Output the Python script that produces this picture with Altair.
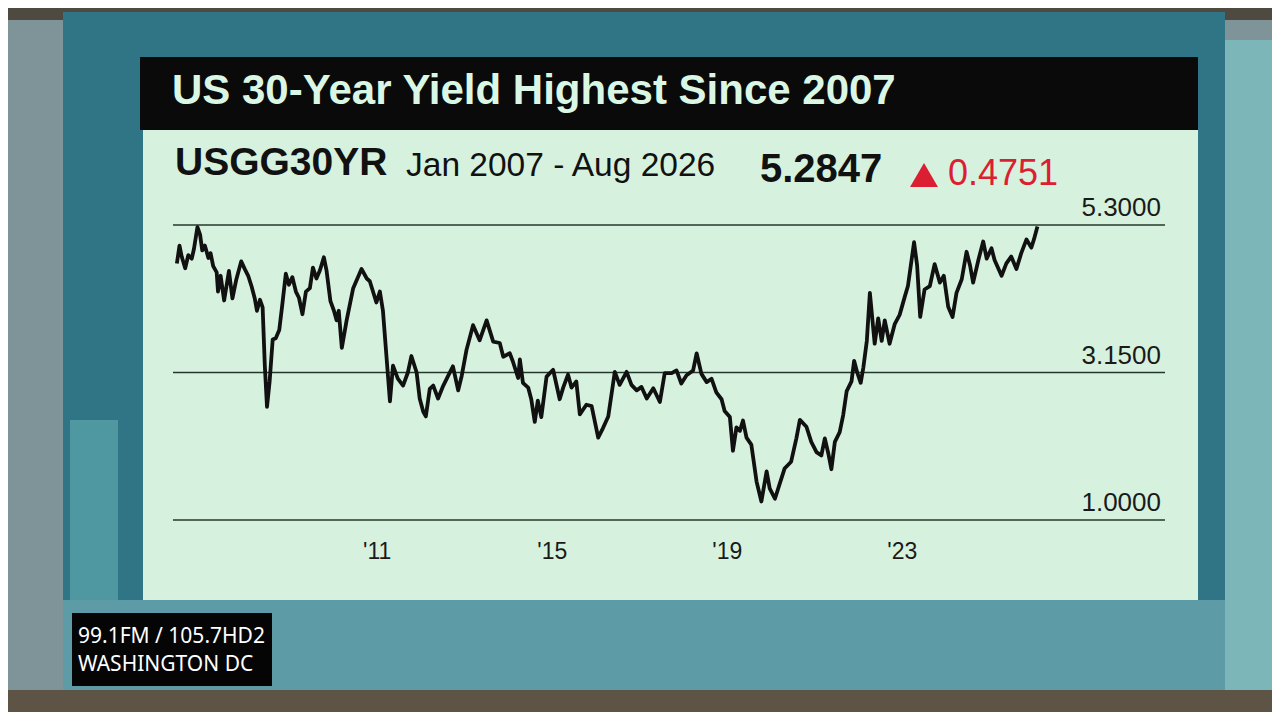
import altair as alt
import pandas as pd

# ---------------- data ----------------
years = [2007.02, 2007.08, 2007.13, 2007.21, 2007.28, 2007.36, 2007.41, 2007.49, 2007.55, 2007.60,
         2007.66, 2007.74, 2007.79, 2007.85, 2007.93, 2007.96, 2008.02, 2008.10, 2008.21, 2008.29,
         2008.38, 2008.49, 2008.57, 2008.65, 2008.73, 2008.80, 2008.85, 2008.92, 2008.98, 2009.03,
         2009.08, 2009.14, 2009.21, 2009.28, 2009.36, 2009.43, 2009.51, 2009.58, 2009.66, 2009.74,
         2009.81, 2009.89, 2009.97, 2010.06, 2010.13, 2010.21, 2010.29, 2010.38, 2010.44, 2010.53,
         2010.61, 2010.67, 2010.72, 2010.79, 2010.90, 2011.05, 2011.24, 2011.36, 2011.43, 2011.58,
         2011.66, 2011.73, 2011.81, 2011.89, 2011.96, 2012.07, 2012.19, 2012.30, 2012.38, 2012.50,
         2012.57, 2012.65, 2012.71, 2012.80, 2012.88, 2012.99, 2013.11, 2013.22, 2013.33, 2013.45,
         2013.53, 2013.64, 2013.79, 2013.94, 2014.10, 2014.25, 2014.40, 2014.48, 2014.63, 2014.70,
         2014.82, 2014.86, 2014.93, 2015.05, 2015.12, 2015.20, 2015.27, 2015.35, 2015.47, 2015.62,
         2015.77, 2015.85, 2015.96, 2016.04, 2016.15, 2016.23, 2016.38, 2016.50, 2016.65, 2016.76,
         2016.88, 2017.03, 2017.14, 2017.30, 2017.41, 2017.53, 2017.64, 2017.76, 2017.91, 2018.06,
         2018.17, 2018.33, 2018.44, 2018.55, 2018.67, 2018.82, 2018.90, 2019.01, 2019.13, 2019.24,
         2019.35, 2019.47, 2019.54, 2019.66, 2019.73, 2019.81, 2019.89, 2019.96, 2020.04, 2020.15,
         2020.27, 2020.38, 2020.50, 2020.57, 2020.69, 2020.80, 2020.91, 2021.06, 2021.18, 2021.26,
         2021.41, 2021.52, 2021.64, 2021.75, 2021.83, 2021.91, 2021.98, 2022.06, 2022.17, 2022.25,
         2022.33, 2022.44, 2022.50, 2022.57, 2022.65, 2022.71, 2022.79, 2022.86, 2022.97, 2023.05,
         2023.13, 2023.20, 2023.31, 2023.43, 2023.54, 2023.66, 2023.73, 2023.87, 2023.94, 2024.01,
         2024.11, 2024.23, 2024.34, 2024.46, 2024.55, 2024.65, 2024.75, 2024.84, 2024.96, 2025.07,
         2025.15, 2025.22, 2025.34, 2025.45, 2025.53, 2025.64, 2025.71, 2025.87, 2025.98, 2026.09,
         2026.21, 2026.32, 2026.44, 2026.55, 2026.61, 2026.69]

yields = [4.74, 5.00, 4.84, 4.67, 4.86, 4.81, 4.95, 5.27, 5.16, 4.93,
          5.00, 4.82, 4.89, 4.70, 4.61, 4.33, 4.56, 4.20, 4.63, 4.23,
          4.51, 4.77, 4.66, 4.56, 4.40, 4.23, 4.05, 4.21, 4.10, 3.25,
          2.65, 3.02, 3.63, 3.65, 3.77, 4.14, 4.59, 4.43, 4.54, 4.33,
          4.24, 4.00, 4.33, 4.38, 4.68, 4.52, 4.64, 4.83, 4.64, 4.19,
          4.05, 3.91, 4.05, 3.51, 3.91, 4.38, 4.66, 4.52, 4.48, 4.17,
          4.33, 4.05, 3.39, 2.73, 3.25, 3.06, 2.96, 3.15, 3.39, 3.15,
          2.77, 2.58, 2.51, 2.91, 2.96, 2.77, 2.96, 3.10, 3.24, 2.89,
          3.10, 3.48, 3.84, 3.62, 3.91, 3.60, 3.58, 3.38, 3.43, 3.31,
          3.07, 3.34, 3.00, 2.93, 2.76, 2.43, 2.74, 2.50, 3.09, 3.19,
          2.76, 2.93, 3.12, 2.93, 3.02, 2.54, 2.68, 2.66, 2.20, 2.34,
          2.51, 3.16, 2.97, 3.16, 2.97, 2.89, 2.94, 2.77, 2.92, 2.72,
          3.14, 3.14, 3.18, 2.99, 3.11, 3.18, 3.43, 3.13, 3.01, 3.06,
          2.86, 2.76, 2.59, 2.50, 2.01, 2.35, 2.30, 2.45, 2.20, 2.10,
          1.56, 1.27, 1.71, 1.46, 1.31, 1.53, 1.75, 1.85, 2.19, 2.46,
          2.36, 2.14, 1.99, 1.94, 2.19, 1.97, 1.74, 2.14, 2.28, 2.53,
          2.88, 3.02, 3.32, 3.15, 3.00, 3.22, 3.61, 4.31, 3.57, 3.94,
          3.61, 3.91, 3.57, 3.86, 3.99, 4.26, 4.41, 5.05, 4.71, 3.96,
          4.36, 4.41, 4.73, 4.46, 4.56, 4.11, 3.96, 4.31, 4.51, 4.91,
          4.71, 4.46, 4.79, 5.06, 4.81, 4.96, 4.79, 4.56, 4.74, 4.84,
          4.66, 4.89, 5.09, 4.97, 5.09, 5.28]

grid_values = [5.3, 3.15, 1.0]
grid_labels = ["5.3000", "3.1500", "1.0000"]
tick_years = [2011.6, 2015.6, 2019.6, 2023.6]
tick_labels = ["'11", "'15", "'19", "'23"]

title_text = "US 30-Year Yield Highest Since 2007"
ticker = "USGG30YR"
date_range = "Jan 2007 - Aug 2026"
last_value = "5.2847"
change_value = "0.4751"
station_lines = ["99.1FM / 105.7HD2", "WASHINGTON DC"]

# ---------------- layout / style ----------------
OX, OY = 143, 130          # screen position of the plot area
W, H = 1055, 470
MINT = "#d6f2de"
RED = "#dc1e32"
SANS = "Liberation Sans, Arial, sans-serif"

xscale = alt.Scale(domain=[2006.2457, 2030.36], nice=False, zero=False)
yscale = alt.Scale(domain=[-0.166, 6.685], nice=False, zero=False)

one = pd.DataFrame({"k": [0]})


def box(x0, y0, x1, y1, color):
    return alt.Chart(one).mark_rect(color=color, opacity=1).encode(
        x=alt.value(x0 - OX), x2=alt.value(x1 - OX),
        y=alt.value(y0 - OY), y2=alt.value(y1 - OY))


def label(txt, sx, sy, size, color, font=SANS, weight="normal", align="left", baseline="alphabetic"):
    return alt.Chart(one).mark_text(
        text=txt, fontSize=size, font=font, fontWeight=weight, color=color,
        align=align, baseline=baseline).encode(
        x=alt.value(sx - OX), y=alt.value(sy - OY))


decor = [
    box(0, 0, 1280, 20, "#4f4a40"),
    box(63, 12, 1225, 690, "#2f7586"),
    box(1225, 40, 1280, 690, "#7db6b9"),
    box(70, 420, 118, 600, "#4f98a2"),
    box(63, 600, 1225, 690, "#5d9ca7"),
    box(0, 690, 1280, 720, "#5e5446"),
    box(140, 57, 1198, 130, "#0b0a0a"),
    box(143, 130, 1198, 600, MINT),
]

texts = [
    label(title_text, 172, 104, 42, "#daf7e6", SANS, "bold"),
    label(ticker, 175, 175, 39, "#111111", SANS, "bold"),
    label(date_range, 406, 176, 33.5, "#111111", SANS),
    label(last_value, 760, 182, 40, "#111111", SANS, "bold"),
    label(change_value, 948, 185, 36, RED, SANS),
]

triangle = alt.Chart(one).mark_point(
    shape="triangle-up", filled=True, size=780, color=RED, opacity=1).encode(
    x=alt.value(924 - OX), y=alt.value(175 - OY))

station_box = box(72, 613, 272, 686, "#050505")
station = [
    label(station_lines[0], 78, 637, 21, "#ffffff", "Noto Sans, sans-serif", baseline="middle"),
    label(station_lines[1], 78, 665, 21, "#ffffff", "Noto Sans, sans-serif", baseline="middle"),
]

grid_df = pd.DataFrame({"v": grid_values, "lab": grid_labels})
rules = alt.Chart(grid_df).mark_rule(color="#24362d", strokeWidth=1.7).encode(
    y=alt.Y("v:Q", scale=yscale, axis=None),
    x=alt.value(30), x2=alt.value(1022))
grid_text = alt.Chart(grid_df).mark_text(
    align="right", baseline="alphabetic", dy=-9, fontSize=26, font=SANS, color="#1a1a1a").encode(
    y=alt.Y("v:Q", scale=yscale, axis=None),
    x=alt.value(1018), text="lab:N")

tick_df = pd.DataFrame({"yr": tick_years, "lab": tick_labels})
ticks = alt.Chart(tick_df).mark_text(
    align="center", baseline="middle", fontSize=23, font=SANS, color="#1a1a1a").encode(
    x=alt.X("yr:Q", scale=xscale, axis=None),
    y=alt.value(552 - OY), text="lab:N")

line_df = pd.DataFrame({"year": years, "yield": yields})
line = alt.Chart(line_df).mark_line(color="#111111", strokeWidth=3.8, strokeJoin="round").encode(
    x=alt.X("year:Q", scale=xscale, axis=None),
    y=alt.Y("yield:Q", scale=yscale, axis=None))

chart = alt.layer(
    *decor, *texts, triangle, station_box, *station, rules, grid_text, ticks, line
).properties(
    width=W, height=H,
    padding={"left": OX - 8, "top": OY - 8, "right": 1264 - (OX - 8) - W, "bottom": 704 - (OY - 8) - H},
    autosize=alt.AutoSizeParams(type="none"),
    background="#7f9499",
).configure_view(fill=MINT, strokeWidth=0)

chart.save("out.html", embed_options={"renderer": "svg", "actions": False})
